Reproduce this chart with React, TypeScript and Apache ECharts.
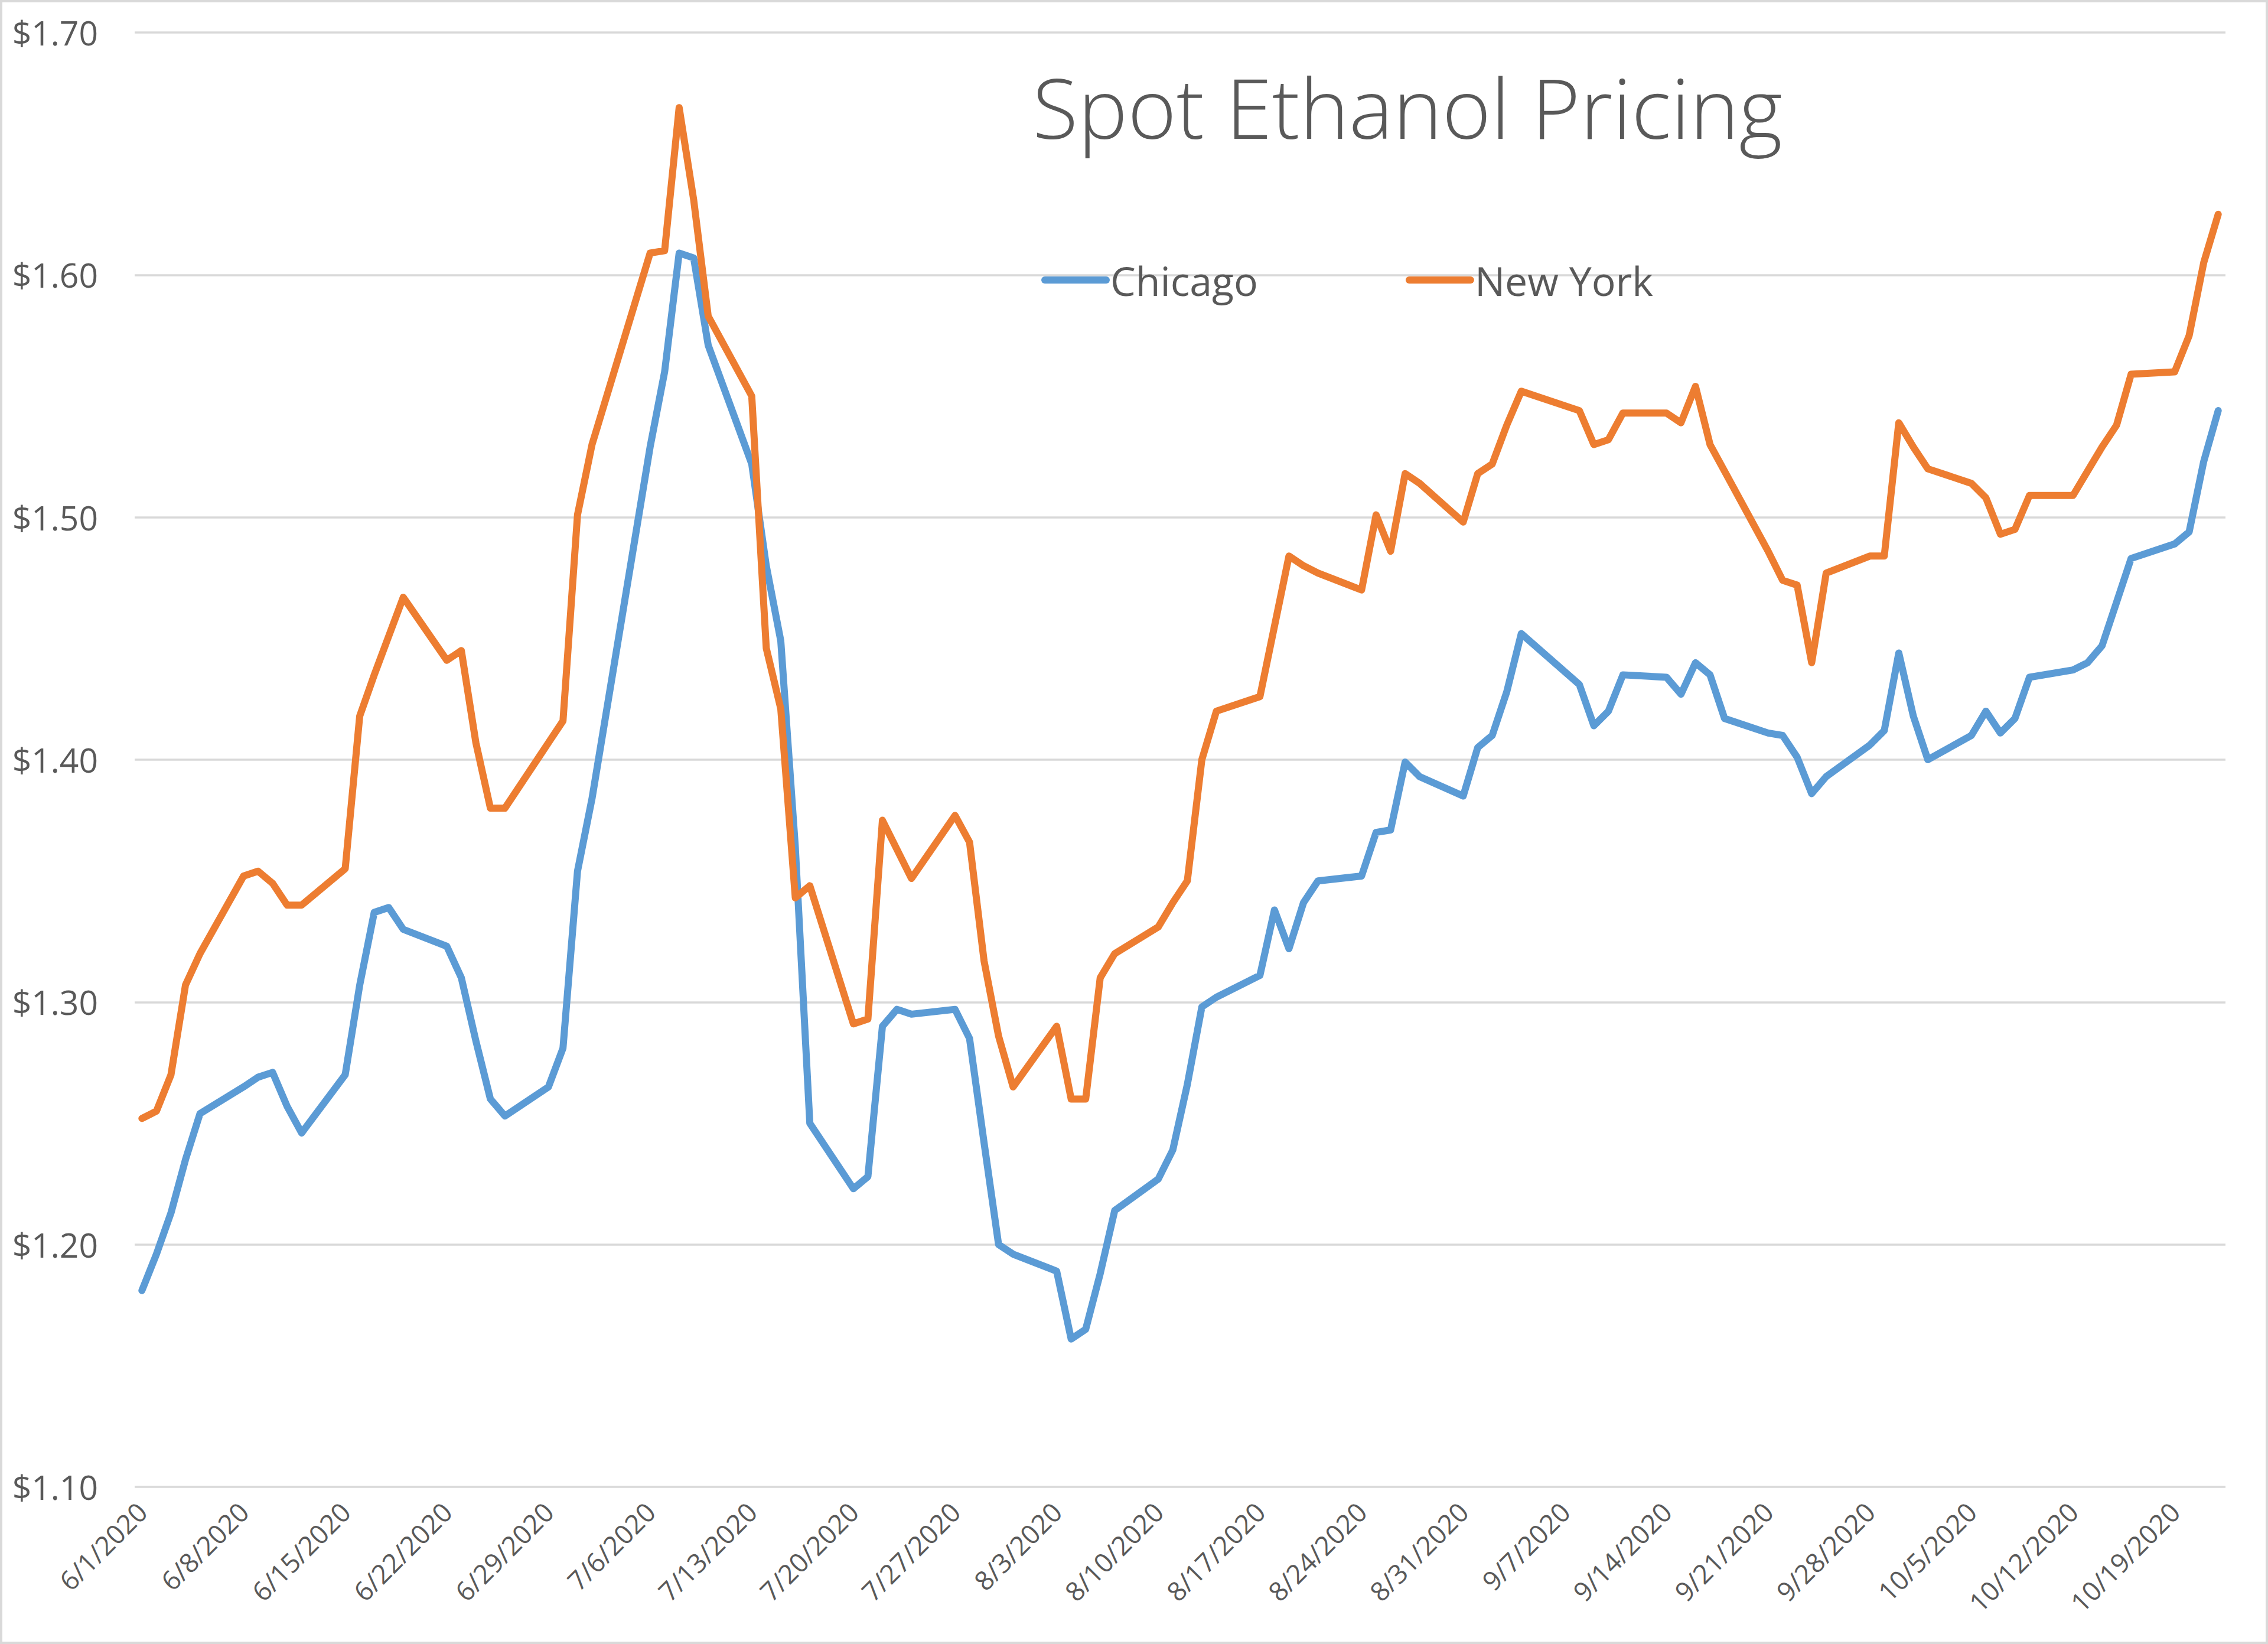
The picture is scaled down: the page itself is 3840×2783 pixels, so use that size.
import React, { useEffect, useRef } from "react";
import * as echarts from "echarts";

const tradeDates: string[] = [
  "6/1/2020", "6/2/2020", "6/3/2020", "6/4/2020", "6/5/2020",
  "6/8/2020", "6/9/2020", "6/10/2020", "6/11/2020", "6/12/2020",
  "6/15/2020", "6/16/2020", "6/17/2020", "6/18/2020", "6/19/2020",
  "6/22/2020", "6/23/2020", "6/24/2020", "6/25/2020", "6/26/2020",
  "6/29/2020", "6/30/2020", "7/1/2020", "7/2/2020",
  "7/6/2020", "7/7/2020", "7/8/2020", "7/9/2020", "7/10/2020",
  "7/13/2020", "7/14/2020", "7/15/2020", "7/16/2020", "7/17/2020",
  "7/20/2020", "7/21/2020", "7/22/2020", "7/23/2020", "7/24/2020",
  "7/27/2020", "7/28/2020", "7/29/2020", "7/30/2020", "7/31/2020",
  "8/3/2020", "8/4/2020", "8/5/2020", "8/6/2020", "8/7/2020",
  "8/10/2020", "8/11/2020", "8/12/2020", "8/13/2020", "8/14/2020",
  "8/17/2020", "8/18/2020", "8/19/2020", "8/20/2020", "8/21/2020",
  "8/24/2020", "8/25/2020", "8/26/2020", "8/27/2020", "8/28/2020",
  "8/31/2020", "9/1/2020", "9/2/2020", "9/3/2020", "9/4/2020",
  "9/8/2020", "9/9/2020", "9/10/2020", "9/11/2020",
  "9/14/2020", "9/15/2020", "9/16/2020", "9/17/2020", "9/18/2020",
  "9/21/2020", "9/22/2020", "9/23/2020", "9/24/2020", "9/25/2020",
  "9/28/2020", "9/29/2020", "9/30/2020", "10/1/2020", "10/2/2020",
  "10/5/2020", "10/6/2020", "10/7/2020", "10/8/2020", "10/9/2020",
  "10/12/2020", "10/13/2020", "10/14/2020", "10/15/2020", "10/16/2020",
  "10/19/2020", "10/20/2020", "10/21/2020", "10/22/2020",
];

const chicago: number[] = [
  1.181, 1.196, 1.213, 1.235, 1.254,
  1.265, 1.269, 1.271, 1.257, 1.246,
  1.270, 1.307, 1.337, 1.339, 1.330,
  1.323, 1.310, 1.284, 1.260, 1.253,
  1.265, 1.281, 1.354, 1.384,
  1.529, 1.560, 1.609, 1.607, 1.571,
  1.522, 1.480, 1.449, 1.364, 1.250,
  1.223, 1.228, 1.290, 1.297, 1.295,
  1.297, 1.285, 1.242, 1.200, 1.196,
  1.189, 1.161, 1.165, 1.188, 1.214,
  1.227, 1.239, 1.266, 1.298, 1.302,
  1.311, 1.338, 1.322, 1.341, 1.350,
  1.352, 1.370, 1.371, 1.399, 1.393,
  1.385, 1.405, 1.410, 1.428, 1.452,
  1.431, 1.414, 1.420, 1.435,
  1.434, 1.427, 1.440, 1.435, 1.417,
  1.411, 1.410, 1.401, 1.386, 1.393,
  1.406, 1.412, 1.444, 1.418, 1.400,
  1.410, 1.420, 1.411, 1.417, 1.434,
  1.437, 1.440, 1.447, 1.465, 1.483,
  1.489, 1.494, 1.523, 1.544,
];

const newYork: number[] = [
  1.252, 1.255, 1.270, 1.307, 1.320,
  1.352, 1.354, 1.349, 1.340, 1.340,
  1.355, 1.418, 1.435, 1.451, 1.467,
  1.441, 1.445, 1.407, 1.380, 1.380,
  1.407, 1.416, 1.501, 1.530,
  1.609, 1.610, 1.669, 1.631, 1.583,
  1.550, 1.446, 1.421, 1.343, 1.348,
  1.291, 1.293, 1.375, 1.363, 1.351,
  1.377, 1.366, 1.317, 1.286, 1.265,
  1.290, 1.260, 1.260, 1.310, 1.320,
  1.331, 1.341, 1.350, 1.400, 1.420,
  1.426, 1.455, 1.484, 1.480, 1.477,
  1.470, 1.501, 1.486, 1.518, 1.514,
  1.498, 1.518, 1.522, 1.538, 1.552,
  1.544, 1.530, 1.532, 1.543,
  1.543, 1.539, 1.554, 1.530, 1.519,
  1.486, 1.474, 1.472, 1.440, 1.477,
  1.484, 1.484, 1.539, 1.529, 1.520,
  1.514, 1.508, 1.493, 1.495, 1.509,
  1.509, 1.519, 1.529, 1.538, 1.559,
  1.560, 1.575, 1.605, 1.625,
];

const yTicks: number[] = [1.1, 1.2, 1.3, 1.4, 1.5, 1.6, 1.7];
const seriesNames: string[] = ["Chicago", "New York"];
const titleText = "Spot Ethanol Pricing";

// calendar days from first to last trading date (date axis)
function buildCalendar(first: string, last: string): string[] {
  const parse = (s: string) => {
    const [m, d, y] = s.split("/").map(Number);
    return Date.UTC(y, m - 1, d);
  };
  const out: string[] = [];
  for (let t = parse(first); t <= parse(last); t += 86400000) {
    const dt = new Date(t);
    out.push(`${dt.getUTCMonth() + 1}/${dt.getUTCDate()}/${dt.getUTCFullYear()}`);
  }
  return out;
}

const W = 3840;
const H = 2783;
const FONT = "'Open Sans', 'Noto Sans', sans-serif";
const TEXT = "#595959";

export default function App() {
  const ref = useRef<HTMLDivElement>(null);

  useEffect(() => {
    if (!ref.current) return;
    const chart = echarts.init(ref.current, null, { renderer: "svg", width: W, height: H });
    const calendar = buildCalendar(tradeDates[0], tradeDates[tradeDates.length - 1]);
    const capsule = "path://M6,0 L110,0 A6,6 0 0 1 110,12 L6,12 A6,6 0 0 1 6,0 Z";

    chart.setOption({
      animation: false,
      backgroundColor: "#ffffff",
      textStyle: { fontFamily: FONT },
      grid: { left: 228, right: 72, top: 55, bottom: 266, containLabel: false },
      legend: {
        data: seriesNames,
        left: 1758,
        top: 435,
        itemWidth: 116,
        itemHeight: 12,
        itemGap: 250,
        icon: capsule,
        textStyle: { fontSize: 68, color: TEXT, fontFamily: FONT, padding: [0, 0, 0, -4] },
      },
      xAxis: {
        type: "category",
        data: calendar,
        boundaryGap: true,
        axisLine: { show: false },
        axisTick: { show: false },
        splitLine: { show: false },
        axisLabel: {
          interval: 6,
          rotate: 45,
          margin: 34,
          fontSize: 45,
          color: TEXT,
          fontFamily: FONT,
        },
      },
      yAxis: {
        type: "value",
        min: yTicks[0],
        max: yTicks[yTicks.length - 1],
        interval: 0.1,
        axisLine: { show: false },
        axisTick: { show: false },
        splitLine: { show: true, lineStyle: { color: "#d9d9d9", width: 3.5 } },
        axisLabel: {
          margin: 62,
          fontSize: 57,
          color: TEXT,
          fontFamily: FONT,
          formatter: (v: number) => "$" + v.toFixed(2),
        },
      },
      series: [
        {
          name: seriesNames[0],
          type: "line",
          data: tradeDates.map((d, i) => [d, chicago[i]]),
          symbol: "none",
          lineStyle: { width: 12, color: "#5B9BD5", cap: "round", join: "round" },
          itemStyle: { color: "#5B9BD5" },
        },
        {
          name: seriesNames[1],
          type: "line",
          data: tradeDates.map((d, i) => [d, newYork[i]]),
          symbol: "none",
          lineStyle: { width: 12, color: "#ED7D31", cap: "round", join: "round" },
          itemStyle: { color: "#ED7D31" },
        },
      ],
      graphic: [
        {
          type: "rect",
          shape: { x: 2, y: 2, width: W - 4, height: H - 4 },
          style: { fill: "none", stroke: "#d9d9d9", lineWidth: 4 },
          silent: true,
        },
        {
          type: "text",
          x: 2383,
          y: 180,
          style: {
            text: titleText,
            fontSize: 141,
            fontWeight: 300,
            fontFamily: FONT,
            fill: TEXT,
            align: "center",
            verticalAlign: "middle",
          },
        },
      ],
    });

    return () => chart.dispose();
  }, []);

  return (
    <div
      ref={ref}
      style={{ position: "absolute", left: 0, top: 0, width: W, height: H }}
    />
  );
}
